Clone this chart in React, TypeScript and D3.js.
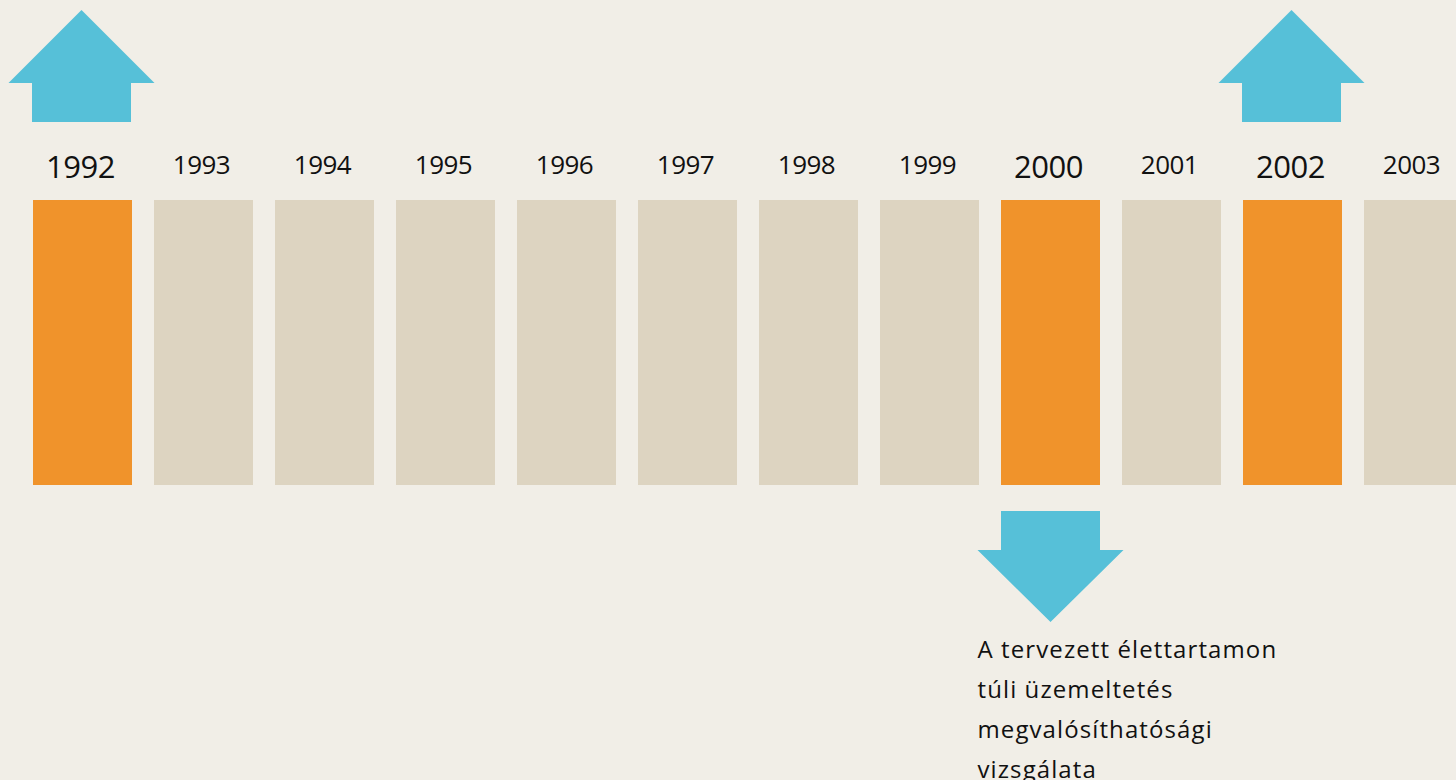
import React from 'react';
import * as d3 from 'd3';

const years = ['1992', '1993', '1994', '1995', '1996', '1997', '1998', '1999', '2000', '2001', '2002', '2003'];
const highlighted = ['1992', '2000', '2002'];
const upArrows = ['1992', '2002'];
const downArrows = ['2000'];
const noteLines = ['A tervezett élettartamon', 'túli üzemeltetés', 'megvalósíthatósági', 'vizsgálata'];

const W = 1456;
const H = 780;
const FONT = "'Open Sans', sans-serif";

export default function App() {
  const x = d3.scaleBand().domain(years).range([33, 1463]).paddingInner(22 / 121).paddingOuter(0);
  const y = d3.scaleLinear().domain([0, 1]).range([485, 200]);
  const bw = x.bandwidth();

  const upArrow = (yr) => {
    const cx = x(yr) + bw / 2 - 1;
    const pts = [
      [cx, 10], [cx + 73, 83], [cx + bw / 2, 83], [cx + bw / 2, 122],
      [cx - bw / 2, 122], [cx - bw / 2, 83], [cx - 73, 83],
    ];
    return <path key={'u' + yr} d={d3.line()(pts) + 'Z'} fill="#56c0d8" />;
  };

  const downArrow = (yr) => {
    const cx = x(yr) + bw / 2;
    const pts = [
      [cx - bw / 2, 511], [cx + bw / 2, 511], [cx + bw / 2, 550], [cx + 73, 550],
      [cx, 622], [cx - 73, 550], [cx - bw / 2, 550],
    ];
    return <path key={'d' + yr} d={d3.line()(pts) + 'Z'} fill="#56c0d8" />;
  };

  const noteX = x(downArrows[0]) + bw / 2 - 73;

  return (
    <svg width={W} height={H} style={{ position: 'fixed', left: 0, top: 0, background: '#f1eee7' }}>
      <rect width={W} height={H} fill="#f1eee7" />
      {years.map((yr) => {
        const hi = highlighted.includes(yr);
        return (
          <g key={yr}>
            <rect x={x(yr)} y={y(1)} width={bw} height={y(0) - y(1)} fill={hi ? '#f0932b' : '#ddd4c1'} />
            <text
              x={x(yr) + bw / 2 - 2}
              y={hi ? 178 : 174}
              textAnchor="middle"
              fontFamily={FONT}
              fontSize={hi ? 31 : 26}
              letterSpacing={-0.5}
              fill="#111"
            >
              {yr}
            </text>
          </g>
        );
      })}
      {upArrows.map(upArrow)}
      {downArrows.map(downArrow)}
      {noteLines.map((t, i) => (
        <text key={i} x={noteX} y={658 + i * 40} fontFamily={FONT} fontSize={24} letterSpacing={1.1} fill="#111">
          {t}
        </text>
      ))}
    </svg>
  );
}
